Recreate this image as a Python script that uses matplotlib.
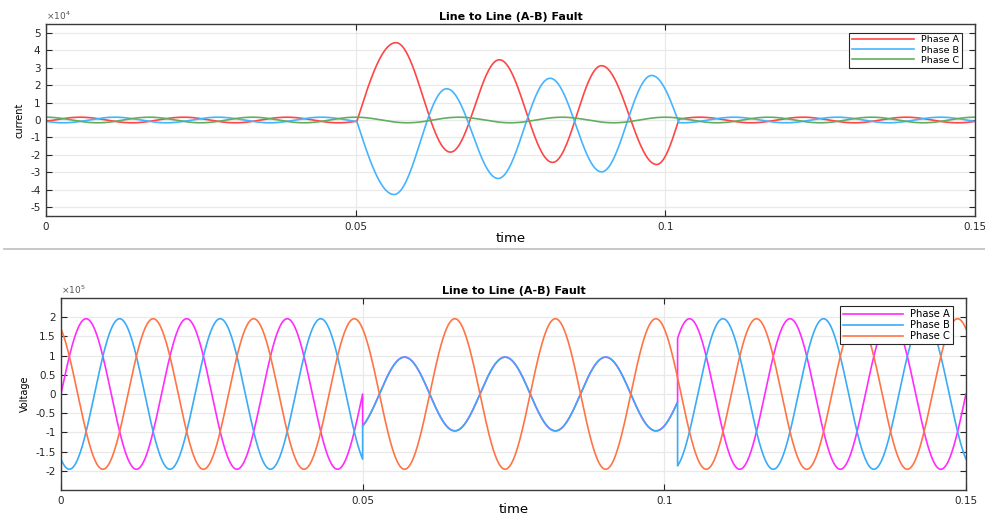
import numpy as np
import matplotlib
matplotlib.use('Agg')
import matplotlib.pyplot as plt
from matplotlib.lines import Line2D
from matplotlib.ticker import FuncFormatter

# values
t_start = 0.0
t_end = 0.15
freq = 60                      # Hz
phase_names = ['Phase A', 'Phase B', 'Phase C']

# currents (A)
i_amp = 1600                   # steady load current amplitude
ia_phase_deg = -30             # phase A current angle at t=0
# fault current turning points (time, value) for phase A and B
ia_fault_t = [0.0502, 0.0565, 0.0653, 0.0732, 0.0818, 0.0897, 0.0986, 0.1022]
ia_fault_v = [-0.07e4, 4.43e4, -1.84e4, 3.45e4, -2.43e4, 3.11e4, -2.55e4, 0.05e4]
ib_fault_t = [0.0502, 0.0562, 0.0647, 0.0730, 0.0814, 0.0897, 0.0978, 0.1022]
ib_fault_v = [-0.09e4, -4.27e4, 1.79e4, -3.35e4, 2.39e4, -2.97e4, 2.55e4, -0.16e4]

# voltages (V)
v_amp = 1.96e5
v_fault_amp = 0.96e5           # phase A and B voltage during the fault
fault_on = 0.05
fault_off = 0.1022

current_ticks = [-5, -4, -3, -2, -1, 0, 1, 2, 3, 4, 5]
voltage_ticks = [-2, -1.5, -1, -0.5, 0, 0.5, 1, 1.5, 2]
time_ticks = [0, 0.05, 0.1, 0.15]

current_colors = ['#ff4545', '#45b4ff', '#62ad62']
voltage_colors = ['#ff2bff', '#3aabf7', '#ff7445']

plt.rcParams['font.family'] = ['DejaVu Sans']

t = np.linspace(t_start, t_end, 6001)
t = np.union1d(t, [fault_on, fault_off])
w = 2 * np.pi * freq


def phase_wave(amp, deg):
    return amp * np.sin(w * t + np.deg2rad(deg))


def fault_part(y, ts, vs):
    # join the turning points with quarter / half cosine pieces
    y = y.copy()
    n = len(ts)
    for i in range(n - 1):
        if i == n - 2:
            m = (t >= ts[i]) & (t <= ts[i + 1])
        else:
            m = (t >= ts[i]) & (t < ts[i + 1])
        s = (t[m] - ts[i]) / (ts[i + 1] - ts[i])
        if i == 0:
            k = np.sin(np.pi / 2 * s)
        elif i == n - 2:
            k = 1 - np.cos(np.pi / 2 * s)
        else:
            k = (1 - np.cos(np.pi * s)) / 2
        y[m] = vs[i] + (vs[i + 1] - vs[i]) * k
    return y


ia = fault_part(phase_wave(i_amp, ia_phase_deg), ia_fault_t, ia_fault_v)
ib = fault_part(phase_wave(i_amp, ia_phase_deg - 120), ib_fault_t, ib_fault_v)
ic = phase_wave(i_amp, ia_phase_deg + 120)

va = phase_wave(v_amp, 0)
vb = phase_wave(v_amp, -120)
vc = phase_wave(v_amp, 120)
on = (t >= fault_on) & (t < fault_off)
va[on] = phase_wave(v_fault_amp, -60)[on]
vb[on] = phase_wave(v_fault_amp, -60)[on]

fig = plt.figure(figsize=(9.85, 5.16), dpi=100)
ax1 = fig.add_axes([0.0467, 0.5814, 0.9431, 0.3721])
ax2 = fig.add_axes([0.0619, 0.0504, 0.9188, 0.3721])


def style_axes(ax, ticks, scale, exp_text, ylabel, xpad):
    ax.set_xlim(t_start, t_end)
    ax.set_xticks(time_ticks)
    ax.xaxis.set_major_formatter(FuncFormatter(lambda v, p: '%g' % v))
    ax.set_yticks([v * scale for v in ticks])
    ax.yaxis.set_major_formatter(FuncFormatter(lambda v, p: '%g' % (v / scale)))
    ax.tick_params(direction='in', top=True, right=True, length=4, width=0.8,
                   labelsize=7.5, colors='#262626', pad=4)
    ax.grid(True, color='#e9e9e9', lw=0.9)
    ax.set_axisbelow(True)
    for sp in ax.spines.values():
        sp.set_color('#3a3a3a')
        sp.set_linewidth(1.0)
    ax.set_title('Line to Line (A-B) Fault', fontsize=8, fontweight='bold', pad=3)
    ax.set_xlabel('time', fontsize=9.5, labelpad=xpad)
    ax.set_ylabel(ylabel, fontsize=7, labelpad=4)
    ax.text(0.0, 1.012, exp_text, transform=ax.transAxes, fontsize=6.5,
            color='#555555', ha='left', va='bottom')


for y, c, name in zip([ia, ib, ic], current_colors, phase_names):
    ax1.plot(t, y, color=c, lw=1.2, label=name)
ax1.set_ylim(-5.5e4, 5.5e4)
style_axes(ax1, current_ticks, 1e4, r'$\times 10^4$', 'current', 0)
leg1 = ax1.legend(loc='upper right', bbox_to_anchor=(0.986, 0.955), fontsize=6.8,
                  handlelength=6.6, labelspacing=0.12, borderpad=0.3,
                  handletextpad=0.7, fancybox=False, framealpha=1,
                  edgecolor='#262626', borderaxespad=0)
leg1.get_frame().set_linewidth(0.8)

for y, c, name in zip([va, vb, vc], voltage_colors, phase_names):
    ax2.plot(t, y, color=c, lw=1.2, label=name)
ax2.set_ylim(-2.5e5, 2.5e5)
style_axes(ax2, voltage_ticks, 1e5, r'$\times 10^5$', 'Voltage', -1.5)
leg2 = ax2.legend(loc='upper right', bbox_to_anchor=(0.986, 0.958), fontsize=7.2,
                  handlelength=6.0, labelspacing=0.12, borderpad=0.3,
                  handletextpad=0.7, fancybox=False, framealpha=1,
                  edgecolor='#262626', borderaxespad=0)
leg2.get_frame().set_linewidth(0.8)

# grey rule between the two panels
fig.add_artist(Line2D([0.004, 1.0], [1 - 249 / 516] * 2, transform=fig.transFigure,
                      color='#c4c4c4', lw=1.3))

fig.savefig('out.png', dpi=100, facecolor='white')
